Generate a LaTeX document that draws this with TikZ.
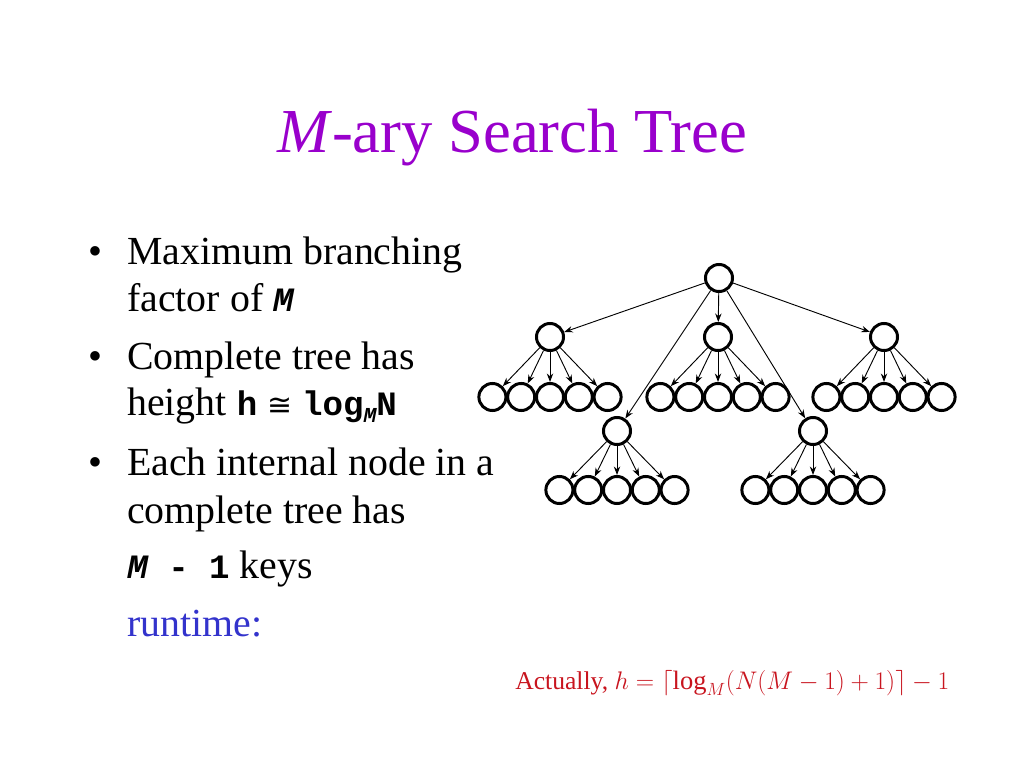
\documentclass[tikz,border=0pt]{standalone}
\usepackage{fontspec}
\setmainfont{Liberation Serif}
\newfontfamily\monofont{Liberation Mono}
\newfontfamily\symfont{DejaVu Sans}
\usetikzlibrary{arrows.meta}
\definecolor{titlepurple}{RGB}{153,0,204}
\definecolor{runblue}{RGB}{51,51,204}
\definecolor{notered}{RGB}{200,20,30}
\newcommand{\mb}[1]{{\monofont\bfseries #1}}
\newcommand{\mbi}[1]{{\monofont\bfseries\itshape #1}}
\begin{document}
\begin{tikzpicture}[x=0.703125pt,y=-0.703125pt,
  tn/.style={circle,draw,line width=2.1pt,minimum size=19pt,inner sep=0pt},
  edge/.style={-{Stealth[length=6pt,width=4.5pt]},line width=0.65pt},
  body/.style={anchor=base west,inner sep=0pt,font=\fontsize{28}{33}\selectfont}]
\useasboundingbox (0,0) rectangle (1024,768);
% title
\node[anchor=base,inner sep=0pt,font=\fontsize{44}{52}\selectfont,text=titlepurple] (title) at (512,153) {\textit{M}-ary Search Tree};
% bullets
\node[body] (b1) at (88,265) {•};
\node[body] (t1) at (127,265) {Maximum branching};
\node[body] (t2) at (127,312) {factor of {\fontsize{24}{28}\selectfont\mbi{M}}};
\node[body] (b2) at (88,369) {•};
\node[body] (t3) at (127,369) {Complete tree has};
\node[body] (t4) at (127,415) {height {\fontsize{24}{28}\selectfont\mb{h}} {\fontsize{21}{26}\selectfont\symfont ≅} {\fontsize{24}{28}\selectfont\mb{log}}\raisebox{-5.5pt}{\fontsize{15}{15}\selectfont\mbi{M}}{\fontsize{24}{28}\selectfont\mb{N}}};
\node[body] (b3) at (88,475) {•};
\node[body] (t5) at (127,475) {Each internal node in a};
\node[body] (t6) at (127,523) {complete tree has};
\node[body] (t7) at (127,578) {{\fontsize{24}{28}\selectfont\mbi{M}\mb{ - 1}} keys};
\node[body,text=runblue] (t8) at (127,636) {runtime:};
% note
\node[anchor=base west,inner sep=0pt,text=notered,font=\fontsize{18}{22}\selectfont] (note) at (515,689) {Actually, \scalebox{1.035}{$h=\lceil\log_M(N(M-1)+1)\rceil-1$}};
% tree nodes
\node[tn] (r) at (719,278) {};
\node[tn] (a) at (550,337) {};
\node[tn] (b) at (718,337) {};
\node[tn] (c) at (884,337) {};
\node[tn] (d) at (617,431) {};
\node[tn] (e) at (813,431) {};
\foreach \p/\cx/\cy in {a/550/397, b/718/397, c/884/397, d/617/490, e/813/490}{
  \foreach \i in {1,...,5}{
    \node[tn] (\p\i) at ({\cx+(\i-3)*28.8},\cy) {};
    \draw[edge] (\p) -- (\p\i);
  }
}
\foreach \q in {a,b,c,d,e}{
  \draw[edge] (r) -- (\q);
}
\end{tikzpicture}
\end{document}
